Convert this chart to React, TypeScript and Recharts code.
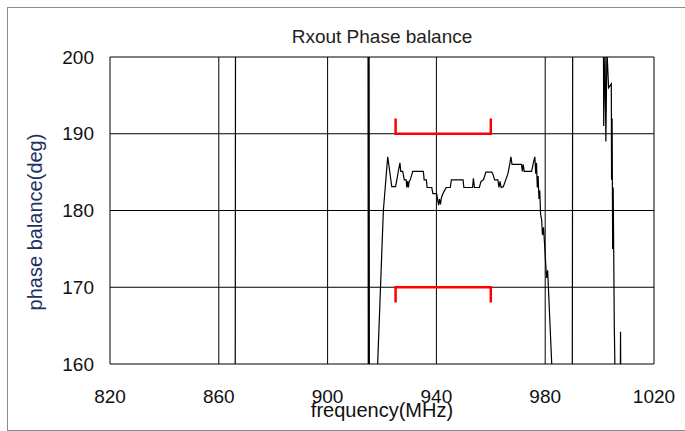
import React from "react";
import { CartesianGrid, Label, Line, LineChart, XAxis, YAxis } from "recharts";

// measured phase balance (deg) vs frequency (MHz); wraps show as full-height verticals
const freq = [
  820, 866.0, 866.2, 914.8, 915.0, 915.2, 915.4, 918.4, 920.5, 922.1, 923.6, 925.0, 926.0, 926.6,
  926.9, 927.6, 928.2, 928.9, 929.1, 929.4, 929.7, 930.0, 930.4, 931.3, 935.2, 935.5, 936.3, 936.6,
  938.3, 938.7, 940.1, 940.5, 940.8, 941.1, 941.5, 941.8, 942.4, 943.6, 945.1, 945.5, 949.8, 950.1,
  953.3, 953.6, 954.0, 955.8, 956.4, 957.3, 958.2, 960.4, 960.9, 961.4, 962.6, 963.0, 963.4, 963.8,
  964.6, 965.3, 966.3, 966.9, 967.4, 967.8, 971.3, 971.6, 971.9, 972.3, 975.0, 975.7, 976.2, 976.5,
  976.8, 977.1, 977.4, 977.7, 978.0, 978.3, 978.7, 979.0, 979.4, 980.5, 980.9, 982.4, 983.0, 989.9,
  990.2, 1001.2, 1001.5, 1002.0, 1002.3, 1002.7, 1003.3, 1004.3, 1004.4, 1004.6, 1004.8, 1005.0,
  1005.4, 1005.7, 1006.0, 1007.5, 1007.7, 1007.9, 1008.3, 1020,
];
const phase = [
  140, 140, 230, 230, 140, 230, 140, 160, 180, 187.0, 183.1, 183.1, 185.1, 186.2,
  185.1, 185.1, 184.0, 184.0, 183.0, 183.8, 183.0, 183.8, 184.0, 185.1, 185.1, 184.0, 184.0, 183.0,
  183.0, 182.2, 182.2, 181.3, 180.7, 181.5, 180.8, 181.6, 182.2, 183.0, 183.0, 184.0, 184.0, 183.0,
  183.0, 184.2, 183.0, 183.0, 183.8, 184.0, 185.0, 185.0, 184.6, 184.0, 184.0, 183.0, 183.8, 183.0,
  183.1, 183.8, 184.8, 185.9, 187.0, 186.0, 186.0, 185.1, 186.0, 185.1, 185.1, 186.3, 187.0, 184.8,
  186.2, 183.0, 184.5, 181.5, 182.6, 179.5, 178.8, 176.8, 177.8, 171.2, 172.2, 160, 140, 140,
  230, 230, 191.0, 201, 189.0, 201, 196, 196.5, 184, 192, 175, 183,
  165, 158, 140, 150, 164.2, 150, 140, 140,
];

// spec brackets
const upperX = [925, 925, 960, 960];
const upperY = [192, 190, 190, 192];
const lowerX = [925, 925, 960, 960];
const lowerY = [168, 170, 170, 168];

const xTicks = [820, 860, 900, 940, 980, 1020];
const yTicks = [160, 170, 180, 190, 200];

const data = freq.map((f, i) => ({ f, v: phase[i] }));
const upper = upperX.map((f, i) => ({ f, v: upperY[i] }));
const lower = lowerX.map((f, i) => ({ f, v: lowerY[i] }));

const FONT = '"Liberation Sans", Arial, sans-serif';

export default function App() {
  return (
    <div style={{ position: "relative", width: 685, height: 431, background: "#fff", overflow: "hidden", fontFamily: FONT }}>
      <style>{"body{margin:0}"}</style>
      <div
        style={{
          position: "absolute",
          left: 7,
          top: 7,
          width: 700,
          height: 422,
          border: "1px solid #8c8c8c",
        }}
      />
      <div
        style={{
          position: "absolute",
          left: 110,
          width: 544,
          top: 26,
          textAlign: "center",
          fontSize: 19,
          color: "#222",
        }}
      >
        Rxout Phase balance
      </div>
      <div style={{ position: "absolute", left: 0, top: 0 }}>
        <LineChart width={685} height={431} margin={{ top: 57, right: 31, bottom: 0, left: 0 }}>
          <CartesianGrid stroke="#000" strokeWidth={1} ticks={undefined} />
          <XAxis
            dataKey="f"
            type="number"
            domain={[820, 1020]}
            ticks={xTicks}
            allowDataOverflow
            height={67}
            axisLine={false}
            tickLine={false}
            tickMargin={20}
            tick={{ fill: "#111", fontSize: 19, fontFamily: FONT }}
          >
            <Label
              content={() => (
                <text x={382} y={417} textAnchor="middle" fontSize={20} fontFamily={FONT} fill="#111">
                  frequency(MHz)
                </text>
              )}
            />
          </XAxis>
          <YAxis
            type="number"
            domain={[160, 200]}
            ticks={yTicks}
            allowDataOverflow
            width={110}
            axisLine={false}
            tickLine={false}
            tickMargin={10}
            tick={{ fill: "#111", fontSize: 19, fontFamily: FONT }}
          >
            <Label
              content={() => (
                <text
                  x={42}
                  y={222}
                  transform="rotate(-90 42 222)"
                  textAnchor="middle"
                  fontSize={20}
                  fontFamily={FONT}
                  fill="#1f3060"
                >
                  phase balance(deg)
                </text>
              )}
            />
          </YAxis>
          <Line data={data} dataKey="v" stroke="#000" strokeWidth={1.2} dot={false} isAnimationActive={false} />
          <Line data={upper} dataKey="v" stroke="#ff0000" strokeWidth={2.5} dot={false} isAnimationActive={false} strokeLinejoin="miter" />
          <Line data={lower} dataKey="v" stroke="#ff0000" strokeWidth={2.5} dot={false} isAnimationActive={false} strokeLinejoin="miter" />
        </LineChart>
      </div>
    </div>
  );
}
